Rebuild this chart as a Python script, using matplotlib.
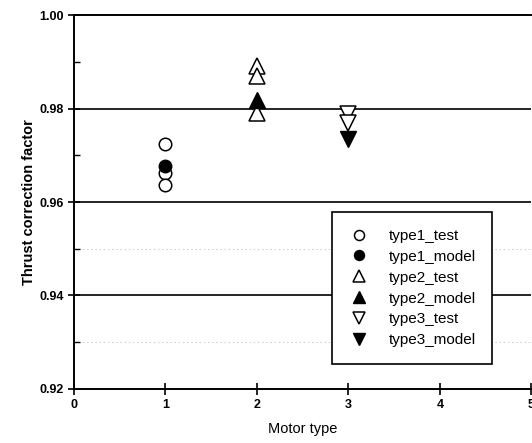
import matplotlib
matplotlib.use("Agg")
import matplotlib.pyplot as plt
import matplotlib.ticker as mticker

plt.rcParams.update({
    "font.family": ["Liberation Sans", "DejaVu Sans"],
    "font.size": 9,
})

# ---- data ----
type1_x_test = [1, 1, 1]
type1_test = [0.9724, 0.9663, 0.9636]
type1_x_model = [1]
type1_model = [0.9676]

type2_x_test = [2, 2, 2]
type2_test = [0.9891, 0.9870, 0.9790]
type2_x_model = [2]
type2_model = [0.9819]

type3_x_test = [3, 3]
type3_test = [0.9788, 0.9769]
type3_x_model = [3]
type3_model = [0.9735]

fig = plt.figure(figsize=(5.32, 4.43), dpi=100)
ax = fig.add_axes([0.139, 0.122, 0.860, 0.844])

ax.set_xlim(0, 5)
ax.set_ylim(0.92, 1.00)

# black horizontal grid lines at the major y ticks
for yv in [0.94, 0.96, 0.98]:
    ax.axhline(yv, color="black", linewidth=1.2, zorder=1)
# faint dotted lines at the half steps (scan remnants)
for yv in [0.93, 0.95]:
    ax.axhline(yv, color="#c8c8c8", linewidth=0.6, linestyle=(0, (2, 3)), zorder=0)

open_kw = dict(linestyle="none", markerfacecolor="white", markeredgecolor="black",
               markeredgewidth=1.1, zorder=3)
fill_kw = dict(linestyle="none", color="black", zorder=4)

ax.plot(type1_x_test, type1_test, marker="o", markersize=9, label="type1_test", **open_kw)
ax.plot(type1_x_model, type1_model, marker="o", markersize=9, label="type1_model", **fill_kw)
ax.plot(type2_x_test, type2_test, marker="^", markersize=11, label="type2_test", **open_kw)
ax.plot(type2_x_model, type2_model, marker="^", markersize=11, label="type2_model", **fill_kw)
ax.plot(type3_x_test, type3_test, marker="v", markersize=11, label="type3_test", **open_kw)
ax.plot(type3_x_model, type3_model, marker="v", markersize=11, label="type3_model", **fill_kw)

for side in ["left", "bottom", "top"]:
    ax.spines[side].set_linewidth(1.4)
ax.spines["right"].set_visible(False)

ax.set_xticks([0, 1, 2, 3, 4, 5])
ax.set_yticks([0.92, 0.94, 0.96, 0.98, 1.00])
ax.yaxis.set_major_formatter(mticker.FormatStrFormatter("%.2f"))
ax.yaxis.set_minor_locator(mticker.MultipleLocator(0.01))
ax.tick_params(axis="both", which="major", direction="inout", length=8, width=1.2,
               labelsize=9)
ax.tick_params(axis="y", which="minor", direction="in", length=4, width=1.0)
for lab in ax.get_xticklabels() + ax.get_yticklabels():
    lab.set_fontweight("bold")

ax.set_xlabel("Motor type", fontsize=10.5, labelpad=8)
ax.set_ylabel("Thrust correction factor", fontsize=10.5, labelpad=2,
              fontweight="semibold")

leg = ax.legend(loc="upper left", bbox_to_anchor=(0.564, 0.473), borderaxespad=0,
                fontsize=11, markerscale=0.8, handlelength=1.3, handletextpad=1.3,
                labelspacing=0.45, borderpad=1.1, fancybox=False, framealpha=1)
leg.get_frame().set_edgecolor("black")
leg.get_frame().set_linewidth(1.2)

fig.savefig("out.png", dpi=100)
